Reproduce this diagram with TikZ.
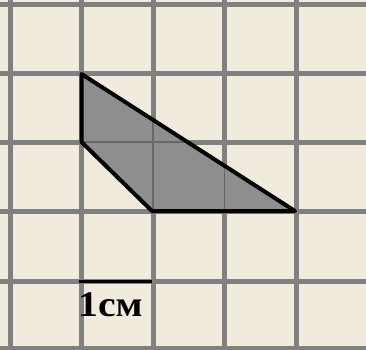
\documentclass[tikz,border=0pt]{standalone}
\usepackage{fontspec}
\setmainfont{Liberation Serif}
\definecolor{paper}{RGB}{241,235,222}
\definecolor{gridgray}{RGB}{128,128,128}
\definecolor{figgray}{RGB}{142,142,142}
\begin{document}
\begin{tikzpicture}[x=1pt,y=-1pt]
  \fill[paper] (0,0) rectangle (366,349);
  \useasboundingbox (0,0) rectangle (366,349);
  \foreach \x in {10,81.5,153,224.5,296} \draw[gridgray, line width=5pt] (\x,0) -- (\x,349);
  \foreach \y in {4.5,73,142,211,281,348} \draw[gridgray, line width=5pt] (0,\y) -- (366,\y);
  \coordinate (a) at (81.5,74);
  \coordinate (b) at (81.5,142);
  \coordinate (c) at (152,211);
  \coordinate (d) at (295,211);
  \fill[figgray] (a) -- (b) -- (c) -- (d) -- cycle;
  % faint grid inside the shape
  \begin{scope}
    \clip (a) -- (b) -- (c) -- (d) -- cycle;
    \draw[gridgray!80!black, line width=1.5pt] (153,0) -- (153,349) (224.5,0) -- (224.5,349) (0,142) -- (366,142);
  \end{scope}
  \draw[line width=4pt, line join=round] (a) -- (b) -- (c) -- (d) -- cycle;
  \coordinate (u0) at (79,281.5);
  \coordinate (u1) at (152,281.5);
  \draw[line width=3.5pt] (u0) -- (u1);
  \node (unit) [anchor=north west, inner sep=0pt, font=\bfseries\fontsize{36}{36}\selectfont, xscale=1.1] at (78,293) {1см};
\end{tikzpicture}
\end{document}
